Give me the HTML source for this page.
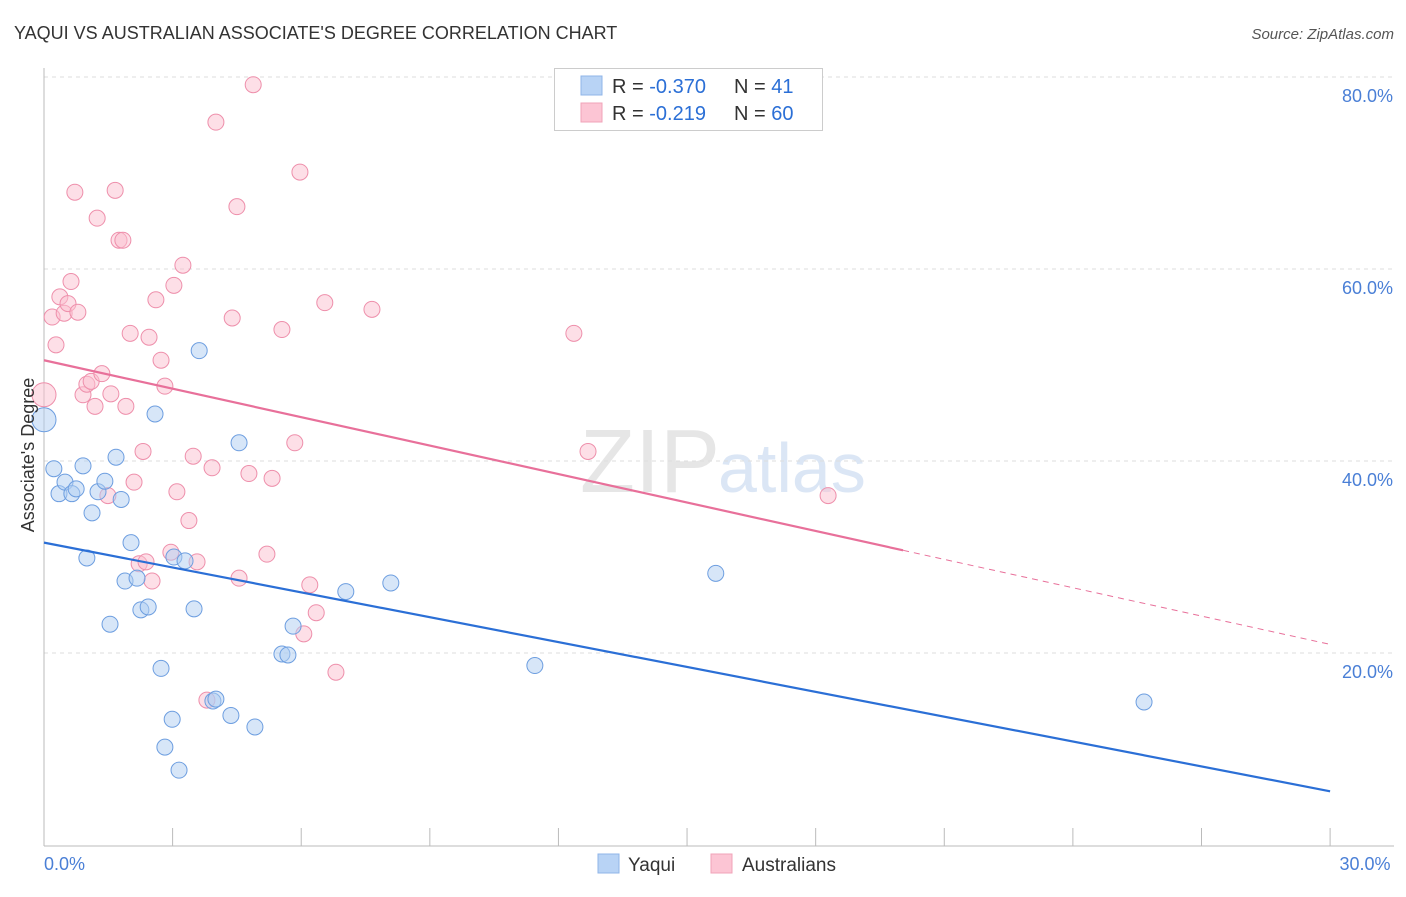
<!DOCTYPE html>
<html><head><meta charset="utf-8"><style>
body{margin:0;background:#fff;font-family:"Liberation Sans",sans-serif;}
svg text{font-family:"Liberation Sans",sans-serif;}
</style></head><body>
<svg id="c" width="1406" height="892" xmlns="http://www.w3.org/2000/svg">
<text x="14" y="39" font-size="18" fill="#333">YAQUI VS AUSTRALIAN ASSOCIATE'S DEGREE CORRELATION CHART</text>
<text x="1394" y="39" font-size="15" fill="#555" font-style="italic" text-anchor="end">Source: ZipAtlas.com</text>
<text x="720" y="492" font-size="90" fill="#e6e6e6" text-anchor="end" font-family="Liberation Serif">ZIP</text>
<text x="718" y="492" font-size="70" fill="#dbe6f5">atlas</text>
<g id="grid"></g>
<g id="marks"></g>
<text transform="translate(34,455) rotate(-90)" font-size="18" fill="#333" text-anchor="middle">Associate's Degree</text>
<g>
<rect x="554.5" y="68.5" width="268" height="62" fill="#fff" stroke="#ccc"/>
<rect x="581" y="76" width="21" height="19" fill="#b8d3f5" stroke="#8fb5e8"/>
<rect x="581" y="103" width="21" height="19" fill="#fcc5d4" stroke="#f0a3b8"/>
<text x="612" y="93" font-size="20" fill="#333">R = <tspan fill="#2b6fd6">-0.370</tspan></text>
<text x="734" y="93" font-size="20" fill="#333">N = <tspan fill="#2b6fd6"> 41</tspan></text>
<text x="612" y="120" font-size="20" fill="#333">R = <tspan fill="#2b6fd6"> -0.219</tspan></text>
<text x="734" y="120" font-size="20" fill="#333">N = <tspan fill="#2b6fd6">60</tspan></text>
</g>
<g>
<rect x="598" y="854" width="21" height="19" fill="#b8d3f5" stroke="#8fb5e8"/>
<text x="628" y="871" font-size="19" fill="#333">Yaqui</text>
<rect x="711" y="854" width="21" height="19" fill="#fcc5d4" stroke="#f0a3b8"/>
<text x="742" y="871" font-size="19" fill="#333">Australians</text>
</g>
</svg>
<script>
const yTicks=[20,40,60,80];
const xTickLabels=["0.0%","30.0%"];
const yaquiX=[0,0.23,0.35,0.49,0.65,0.75,0.91,1.0,1.12,1.26,1.42,1.54,1.68,1.8,1.89,2.03,2.17,2.26,2.43,2.59,2.73,2.82,2.99,3.03,3.15,3.29,3.5,3.62,3.94,4.01,4.36,4.55,4.92,5.55,5.69,5.81,7.04,8.09,11.45,15.67,25.66];
const yaquiY=[44.4,39.3,36.7,37.9,36.7,37.2,39.6,30.0,34.7,36.9,38.0,23.1,40.5,36.1,27.6,31.6,27.9,24.6,24.9,45.0,18.5,10.3,13.2,30.1,7.9,29.7,24.7,51.6,15.1,15.3,13.6,42.0,12.4,20.0,19.9,22.9,26.5,27.4,18.8,28.4,15.0];
const ausX=[0,0.19,0.28,0.37,0.47,0.56,0.63,0.72,0.79,0.91,1.0,1.1,1.19,1.24,1.35,1.49,1.56,1.66,1.75,1.84,1.91,2.01,2.1,2.22,2.31,2.38,2.45,2.52,2.61,2.73,2.82,2.96,3.03,3.1,3.24,3.38,3.48,3.57,3.8,3.92,4.01,4.39,4.5,4.55,4.78,4.88,5.2,5.32,5.55,5.85,5.97,6.06,6.2,6.35,6.55,6.81,7.65,12.36,12.69,18.29];
const ausY=[47.0,55.1,52.2,57.2,55.5,56.5,58.8,68.1,55.6,47.0,48.1,48.4,45.8,65.4,49.2,36.5,47.1,68.3,63.1,63.1,45.8,53.4,37.9,29.4,41.1,29.6,53.0,27.6,56.9,50.6,47.9,30.6,58.4,36.9,60.5,33.9,40.6,29.6,15.2,39.4,75.4,55.0,66.6,27.9,38.8,79.3,30.4,38.3,53.8,42.0,70.2,22.1,27.2,24.3,56.6,18.1,55.9,53.4,41.1,36.5];
const svg=document.getElementById('c'),NS='http://www.w3.org/2000/svg';
const X=v=>44+v*42.87, Y=v=>846-v*9.6;
function mk(t,a,p){const e=document.createElementNS(NS,t);for(const k in a)e.setAttribute(k,a[k]);p.appendChild(e);return e;}
const g=document.getElementById('grid'),m=document.getElementById('marks');
yTicks.forEach(t=>{const l=mk('line',{x1:44,x2:1394,y1:Y(t)-1,y2:Y(t)-1,stroke:'#ddd','stroke-dasharray':'4,4'},g);

const tx=mk('text',{x:1393,y:Y(t)+24,'font-size':18,fill:'#4a7fd6','text-anchor':'end'},g);tx.textContent=t.toFixed(1)+'%';
});
mk('line',{x1:44,x2:44,y1:68,y2:846,stroke:'#bbb'},g);
mk('line',{x1:44,x2:1394,y1:846,y2:846,stroke:'#bbb'},g);
for(let i=0;i<=30;i+=3){const l=mk('line',{x1:X(i),x2:X(i),y1:828,y2:846,stroke:'#bbb'},g);}
[[0,'start',xTickLabels[0]],[30,'middle',xTickLabels[1]]].forEach(([v,a,s])=>{const t=mk('text',{x:v?1365:44,y:870,'font-size':18,fill:'#4a7fd6','text-anchor':a},g);t.textContent=s;});
function pts(xs,ys,f,s,n){xs.forEach((x,i)=>{const c=mk('circle',{cx:X(x),cy:Y(ys[i]),r:i==0?12:8,fill:f,'fill-opacity':0.5,stroke:s,'stroke-width':1},m);});}
pts(ausX,ausY,'#fbc0d0','#ee8fab','australians-point');
pts(yaquiX,yaquiY,'#b0cdf2','#6d9ee0','yaqui-point');
let l=mk('line',{x1:X(0),y1:Y(31.6),x2:X(30),y2:Y(5.7),stroke:'#2b6fd6','stroke-width':2.2},m);
l=mk('line',{x1:X(0),y1:Y(50.6),x2:X(20.04),y2:Y(30.8),stroke:'#e8709a','stroke-width':2.2},m);
l=mk('line',{x1:X(20.04),y1:Y(30.8),x2:X(30),y2:Y(21),stroke:'#e8709a','stroke-width':1,'stroke-dasharray':'6,5'},m);
</script>
</body></html>
